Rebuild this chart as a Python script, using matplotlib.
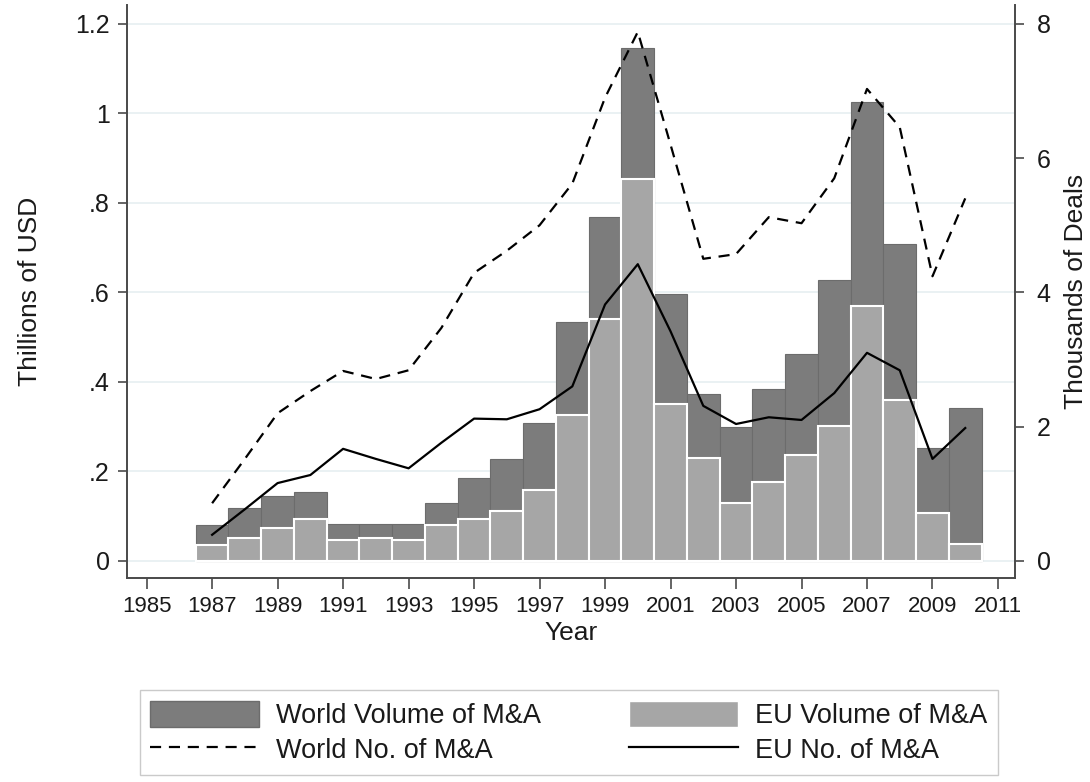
import matplotlib
matplotlib.use("Agg")
import matplotlib.pyplot as plt
from matplotlib.patches import Patch
from matplotlib.lines import Line2D

plt.rcParams['font.family'] = ['Liberation Sans', 'DejaVu Sans']

years = list(range(1987, 2011))
world_vol = [0.080, 0.118, 0.145, 0.154, 0.083, 0.083, 0.083, 0.129, 0.185, 0.228,
             0.308, 0.533, 0.768, 1.145, 0.596, 0.373, 0.299, 0.384, 0.462, 0.627,
             1.025, 0.708, 0.253, 0.341]
eu_vol = [0.036, 0.051, 0.074, 0.094, 0.047, 0.051, 0.047, 0.080, 0.094, 0.112,
          0.158, 0.326, 0.540, 0.853, 0.350, 0.230, 0.129, 0.177, 0.237, 0.301,
          0.569, 0.359, 0.107, 0.038]
world_deals = [0.86, 1.52, 2.20, 2.53, 2.83, 2.71, 2.84, 3.47, 4.29, 4.62,
               5.00, 5.62, 6.90, 7.88, 6.20, 4.50, 4.57, 5.12, 5.03, 5.70,
               7.03, 6.46, 4.24, 5.40]
eu_deals = [0.39, 0.77, 1.16, 1.28, 1.67, 1.52, 1.38, 1.76, 2.12, 2.11,
            2.26, 2.60, 3.82, 4.42, 3.42, 2.31, 2.04, 2.14, 2.10, 2.50,
            3.10, 2.84, 1.52, 1.98]

left_ticks = [0, 0.2, 0.4, 0.6, 0.8, 1.0, 1.2]
left_labels = ['0', '.2', '.4', '.6', '.8', '1', '1.2']
right_ticks = [0, 2, 4, 6, 8]
x_ticks = list(range(1985, 2012, 2))

dark = '#7c7c7c'
light = '#a6a6a6'
axis_col = '#4a4a4a'
txt = '#1a1a1a'

fig = plt.figure(figsize=(10.9, 7.82), dpi=100)
ax = fig.add_axes([0.1165, 0.2609, 0.8147, 0.7327])

ax.bar(years, world_vol, width=1.0, color=dark, edgecolor='#6c6c6c', linewidth=0.8, zorder=2)
ax.bar(years, eu_vol, width=1.0, color=light, edgecolor='white', linewidth=1.5, zorder=3)

ylo, yhi = -0.038, 1.242
ax.set_ylim(ylo, yhi)
ax.set_xlim(1984.4, 2011.52)
ax.set_yticks(left_ticks)
ax.set_yticklabels(left_labels)
ax.set_xticks(x_ticks)
ax.grid(axis='y', color='#e8f0f2', linewidth=1.3, zorder=0)
ax.set_axisbelow(True)

ax2 = ax.twinx()
ax2.set_ylim(ylo * 8 / 1.2, yhi * 8 / 1.2)
ax2.set_yticks(right_ticks)
ax2.plot(years, world_deals, color='black', linestyle=(0, (5, 3.5)), linewidth=1.6, zorder=4)
ax2.plot(years, eu_deals, color='black', linestyle='-', linewidth=1.6, zorder=4)

for a in (ax, ax2):
    a.spines['top'].set_visible(False)
    for s in ('left', 'right', 'bottom'):
        a.spines[s].set_color(axis_col)
        a.spines[s].set_linewidth(1.4)
    a.tick_params(axis='both', direction='out', width=1.2, color=axis_col, labelcolor=txt)
ax.spines['right'].set_visible(False)
ax2.spines['left'].set_visible(False)
ax2.spines['bottom'].set_visible(False)

ax.tick_params(axis='x', labelsize=16, length=8, pad=5)
ax.tick_params(axis='y', labelsize=18, length=6.5, pad=6)
ax2.tick_params(axis='y', labelsize=18, length=6.5, pad=9)

ax.set_xlabel('Year', fontsize=19, color=txt, labelpad=3)
ax.set_ylabel('Thillions of USD', fontsize=19, color=txt, labelpad=24)
ax2.set_ylabel('Thousands of Deals', fontsize=19, color=txt, labelpad=10)

handles = [Patch(facecolor=dark, edgecolor='#6c6c6c'),
           Line2D([], [], color='black', linestyle=(0, (5, 3.5)), linewidth=1.6),
           Patch(facecolor=light, edgecolor='white'),
           Line2D([], [], color='black', linewidth=1.6)]
labels = ['World Volume of M&A', 'World No. of M&A', 'EU Volume of M&A', 'EU No. of M&A']
leg = fig.legend(handles, labels, ncol=2, loc='lower left',
                 bbox_to_anchor=(0.128, 0.009, 0.788, 0.111), mode='expand',
                 fontsize=19.5, frameon=True, fancybox=False, edgecolor='#bdbdbd',
                 handlelength=4.0, handleheight=1.1, handletextpad=0.65,
                 columnspacing=2.0, borderaxespad=0, borderpad=0.4, labelspacing=0.25)
leg.get_frame().set_linewidth(1.0)
for t in leg.get_texts():
    t.set_color(txt)

fig.savefig('out.png', dpi=100)
